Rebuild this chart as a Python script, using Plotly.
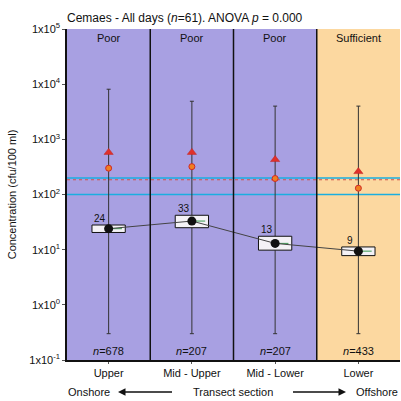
import plotly.graph_objects as go
import math

categories = ["Upper", "Mid - Upper", "Mid - Lower", "Lower"]
quality = ["Poor", "Poor", "Poor", "Sufficient"]
n_counts = [678, 207, 207, 433]
median_vals = [24, 33, 13, 9.4]
median_labels = ["24", "33", "13", "9"]
q1_vals = [20.5, 25, 9.8, 7.8]
q3_vals = [28, 42, 17.5, 11.2]
min_vals = [0.3, 0.3, 0.3, 0.3]
max_vals = [8100, 4900, 4000, 4000]
p95_vals = [580, 580, 430, 260]
p90_vals = [300, 320, 195, 130]
threshold_cyan = [200, 100]
threshold_red = [185]
tick_vals = [0.1, 1, 10, 100, 1000, 10000, 100000]
tick_text = ["1x10<sup>-1</sup>", "1x10<sup>0</sup>", "1x10<sup>1</sup>", "1x10<sup>2</sup>",
             "1x10<sup>3</sup>", "1x10<sup>4</sup>", "1x10<sup>5</sup>"]

quality_colors = {"Poor": "#a8a0e2", "Sufficient": "#fcd8a0"}
xs = list(range(len(categories)))
bw = 0.2

fig = go.Figure()

shapes = []
for i, q in enumerate(quality):
    shapes.append(dict(type="rect", xref="x", yref="paper", x0=i - 0.5, x1=i + 0.5, y0=0, y1=1,
                       fillcolor=quality_colors[q], line=dict(width=0), layer="below"))
for i in range(len(categories) - 1):
    shapes.append(dict(type="line", xref="x", yref="paper", x0=i + 0.5, x1=i + 0.5, y0=0, y1=1,
                       line=dict(color="#111111", width=1.5), layer="above"))
for v in threshold_cyan:
    shapes.append(dict(type="line", xref="paper", yref="y", x0=0, x1=1, y0=v, y1=v,
                       line=dict(color="#1aaee0", width=1.5), layer="below"))
for v in threshold_red:
    shapes.append(dict(type="line", xref="paper", yref="y", x0=0, x1=1, y0=v, y1=v,
                       line=dict(color="#d0504a", width=1, dash="dot"), layer="below"))

# whiskers
fig.add_trace(go.Scatter(
    x=xs, y=median_vals, mode="markers", marker=dict(size=1, color="rgba(0,0,0,0)"),
    error_y=dict(type="data", symmetric=False,
                 array=[mx - m for mx, m in zip(max_vals, median_vals)],
                 arrayminus=[m - mn for m, mn in zip(median_vals, min_vals)],
                 color="#333333", thickness=1, width=2),
    hoverinfo="skip", showlegend=False))

# boxes
for i in xs:
    fig.add_trace(go.Scatter(
        x=[i - bw, i + bw, i + bw, i - bw, i - bw],
        y=[q1_vals[i], q1_vals[i], q3_vals[i], q3_vals[i], q1_vals[i]],
        mode="lines", fill="toself", fillcolor="#f4f2f6",
        line=dict(color="#111111", width=1), showlegend=False, hoverinfo="skip"))
    fig.add_trace(go.Scatter(
        x=[i, i + bw * 0.8], y=[median_vals[i], median_vals[i]], mode="lines",
        line=dict(color="#3a9a50", width=1), showlegend=False, hoverinfo="skip"))

# connecting line and medians
fig.add_trace(go.Scatter(x=xs, y=median_vals, mode="lines+markers",
                         line=dict(color="#444444", width=1),
                         marker=dict(size=9, color="#111111"), showlegend=False))
fig.add_trace(go.Scatter(x=xs, y=p95_vals, mode="markers",
                         marker=dict(symbol="triangle-up", size=8, color="#e0302a",
                                     line=dict(color="#c02020", width=0.5)), showlegend=False))
fig.add_trace(go.Scatter(x=xs, y=p90_vals, mode="markers",
                         marker=dict(symbol="circle", size=6, color="#f08020",
                                     line=dict(color="#d02828", width=1)), showlegend=False))

annotations = []
for i in xs:
    annotations.append(dict(x=i, y=1, xref="x", yref="paper", yanchor="top", yshift=-1,
                            text=quality[i], showarrow=False,
                            font=dict(size=11, color="#111111")))
    annotations.append(dict(x=i, y=0, xref="x", yref="paper", yanchor="bottom", yshift=1,
                            text="<i>n</i>=%d" % n_counts[i], showarrow=False,
                            font=dict(size=11, color="#111111")))
    annotations.append(dict(x=i - 0.1, y=math.log10(q3_vals[i]), xref="x", yref="y",
                            yanchor="bottom", yshift=-1, text=median_labels[i], showarrow=False,
                            font=dict(size=10, color="#111111")))

fy = -(392 - 360) / 331
annotations += [
    dict(x=0, y=fy, xref="paper", yref="paper", xanchor="left", yanchor="middle", xshift=-1,
         text="Onshore", showarrow=False, font=dict(size=11, color="#111111")),
    dict(x=1, y=fy, xref="paper", yref="paper", xanchor="right", yanchor="middle",
         text="Offshore", showarrow=False, font=dict(size=11, color="#111111")),
    dict(x=(233 - 67) / 333, y=fy, xref="paper", yref="paper", xanchor="center", yanchor="middle",
         text="Transect section", showarrow=False, font=dict(size=11, color="#111111")),
    dict(x=(118 - 67) / 333, y=fy, xref="paper", yref="paper", ax=57, ay=0,
         showarrow=True, arrowhead=2, arrowsize=1, arrowwidth=1.5, arrowcolor="#111111", text=" "),
    dict(x=(346 - 67) / 333, y=fy, xref="paper", yref="paper", ax=-56, ay=0,
         showarrow=True, arrowhead=2, arrowsize=1, arrowwidth=1.5, arrowcolor="#111111", text=" "),
]

fig.update_layout(
    width=401, height=401,
    margin=dict(l=67, r=1, t=29, b=41),
    paper_bgcolor="white", plot_bgcolor="white",
    font=dict(family="Liberation Sans, Arial, sans-serif", color="#111111"),
    title=dict(text="Cemaes - All days (<i>n</i>=61). ANOVA <i>p</i> = 0.000",
               x=67 / 401, xanchor="left", y=1 - 18 / 401, yanchor="middle",
               font=dict(size=12, color="#111111")),
    shapes=shapes, annotations=annotations,
    xaxis=dict(range=[-0.5, 3.5], tickvals=xs, ticktext=categories, showgrid=False,
               zeroline=False, ticks="outside", ticklen=2, tickcolor="#555555",
               tickfont=dict(size=11), showline=True, linecolor="#111111", linewidth=1.5),
    yaxis=dict(type="log", range=[-1, 5], tickvals=tick_vals, ticktext=tick_text,
               showgrid=False, zeroline=False, ticks="outside", ticklen=3, tickcolor="#555555",
               tickfont=dict(size=11), showline=True, linecolor="#111111", linewidth=1.5,
               title=dict(text="Concentration (cfu/100 ml)", font=dict(size=11), standoff=10)),
)

fig.write_html("out.html", config={"displayModeBar": False},
               post_script="document.body.style.margin='0';document.body.style.overflow='hidden';")
